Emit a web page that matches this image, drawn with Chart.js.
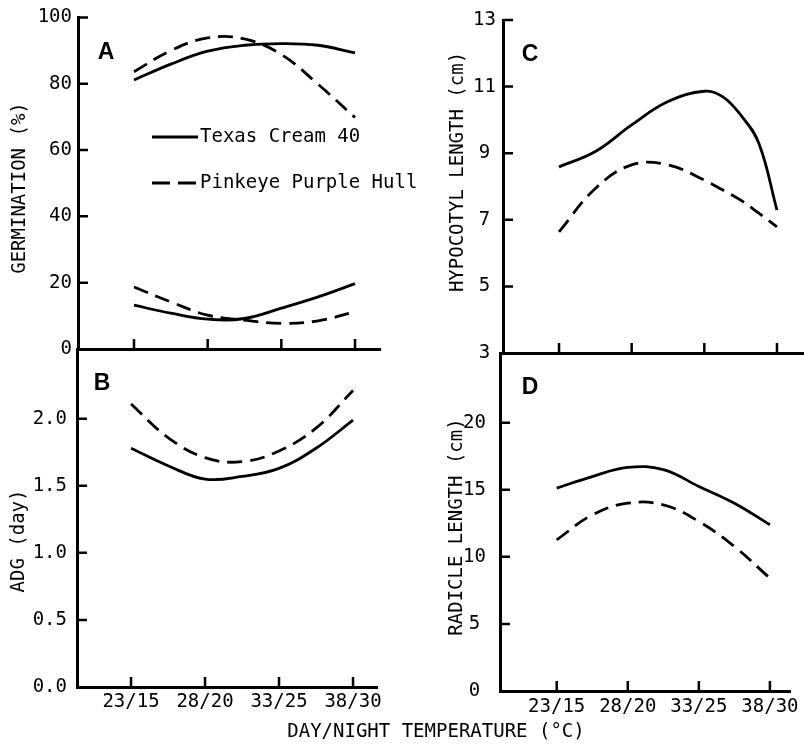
<!DOCTYPE html>
<html>
<head>
<meta charset="utf-8">
<title>Cowpea germination and seedling growth vs. temperature</title>
<script src="https://cdn.jsdelivr.net/npm/chart.js@4.4.0/dist/chart.umd.min.js"></script>
<style>
    html, body { margin: 0; padding: 0; background: #fff; }
    #wrap { position: relative; width: 804px; height: 744px; }
    #wrap canvas { position: absolute; left: 0; top: 0; }
</style>
</head>
<body>
<div id="wrap">
    <canvas id="panel-a" width="804" height="744"></canvas>
    <canvas id="panel-b" width="804" height="744"></canvas>
    <canvas id="panel-c" width="804" height="744"></canvas>
    <canvas id="panel-d" width="804" height="744"></canvas>
</div>
<script>
// Temperature regimes (day/night, deg C) on the x axis
const tempLabels = ['23/15', '28/20', '33/25', '38/30'];
const tempTicks = [1, 2, 3, 4];
const cultivars = ['Texas Cream 40', 'Pinkeye Purple Hull'];

// Points
const sampleX = [1, 1.5, 2, 2.5, 3, 3.5, 4];
const hypoX = [1, 1.5, 2, 2.5, 3, 3.25, 3.5, 3.75, 4];

// A - germination (%), upper and lower curves
const germTexasHigh = [81.1, 85.9, 89.8, 91.6, 92.1, 91.6, 89.3];
const germPinkHigh = [83.6, 90.0, 93.8, 93.5, 88.8, 79.8, 69.8];
const germTexasLow = [13.2, 10.8, 9.0, 9.2, 12.3, 15.7, 19.7];
const germPinkLow = [18.7, 14.2, 10.2, 8.7, 7.7, 8.5, 11.2];
const germTicks = [0, 20, 40, 60, 80, 100];

// B - ADG (day)
const adgTexas = [1.78, 1.65, 1.55, 1.57, 1.63, 1.78, 1.99];
const adgPink = [2.11, 1.86, 1.71, 1.68, 1.76, 1.93, 2.21];
const adgTicks = [0, 0.5, 1.0, 1.5, 2.0];

// C - hypocotyl length (cm)
const hypoTexas = [8.59, 9.05, 9.85, 10.55, 10.86, 10.7, 10.15, 9.3, 7.29];
const hypoPink = [6.64, 7.94, 8.65, 8.65, 8.19, 7.9, 7.59, 7.2, 6.79];
const hypoTicks = [3, 5, 7, 9, 11, 13];

// D - radicle length (cm)
const radTexas = [15.13, 15.99, 16.67, 16.5, 15.25, 14.0, 12.4];
const radPink = [11.27, 13.13, 14.0, 13.88, 12.64, 10.77, 8.41];
const radTicks = [0, 5, 10, 15, 20];

const monoFont = '"DejaVu Sans Mono", monospace';
const curveDash = [15, 8];

// Tick marks drawn on the inside of the axes, as in the original figure
const innerTicks = {
    id: 'innerTicks',
    afterDraw(chart, args, opts) {
        const { ctx, chartArea } = chart;
        const xs = chart.scales.x;
        const ys = chart.scales.y;
        ctx.save();
        ctx.strokeStyle = '#000';
        ctx.lineWidth = 2.5;
        ctx.beginPath();
        xs.ticks.forEach(t => {
            const px = xs.getPixelForValue(t.value);
            ctx.moveTo(px, chartArea.bottom);
            ctx.lineTo(px, chartArea.bottom - opts.length);
        });
        ys.ticks.forEach(t => {
            if (t.value === ys.min) return;
            const py = ys.getPixelForValue(t.value);
            ctx.moveTo(chartArea.left, py);
            ctx.lineTo(chartArea.left + opts.length, py);
        });
        ctx.stroke();
        ctx.restore();
    }
};

// Panel letter, rotated y title and optional shared x title
const panelText = {
    id: 'panelText',
    afterDraw(chart, args, opts) {
        const ctx = chart.ctx;
        ctx.save();
        ctx.fillStyle = '#000';
        ctx.textAlign = 'center';
        ctx.textBaseline = 'middle';

        ctx.font = 'bold 23px "Liberation Sans", Arial, sans-serif';
        ctx.fillText(opts.letter, opts.letterX, opts.letterY);

        ctx.font = '19px ' + monoFont;
        ctx.save();
        ctx.translate(opts.titleX, opts.titleY);
        ctx.rotate(-Math.PI / 2);
        ctx.fillText(opts.title, 0, 0);
        ctx.restore();

        if (opts.caption) {
            ctx.fillText(opts.caption, opts.captionX, opts.captionY);
        }
        ctx.restore();
    }
};

// Legend written inside panel A
const insideLegend = {
    id: 'insideLegend',
    afterDraw(chart, args, opts) {
        if (!opts.display) return;
        const ctx = chart.ctx;
        const items = chart.data.datasets.filter(d => d.inLegend);
        ctx.save();
        ctx.font = '19px ' + monoFont;
        ctx.fillStyle = '#000';
        ctx.strokeStyle = '#000';
        ctx.lineWidth = 2.8;
        ctx.textBaseline = 'middle';
        items.forEach((d, i) => {
            const y = opts.y + i * opts.rowGap;
            ctx.beginPath();
            ctx.setLineDash(d.borderDash.length ? [18, 8] : []);
            ctx.moveTo(opts.x, y);
            ctx.lineTo(opts.x + opts.sample, y);
            ctx.stroke();
            ctx.setLineDash([]);
            ctx.fillText(d.label, opts.x + opts.sample + 2, y);
        });
        ctx.restore();
    }
};

function makeDataset(label, xs, values, dashed, inLegend) {
    return {
        label: label,
        inLegend: inLegend,
        data: xs.map((x, i) => ({ x: x, y: values[i] })),
        borderColor: '#000',
        borderWidth: 2.8,
        borderDash: dashed ? curveDash : [],
        pointRadius: 0,
        tension: 0.4,
        fill: false
    };
}

function makePanel(id, p) {
    const yW = 60;
    const xH = p.showX ? 30 : 0;
    return new Chart(document.getElementById(id), {
        type: 'line',
        data: { datasets: p.datasets },
        options: {
            responsive: false,
            animation: false,
            layout: {
                padding: {
                    left: p.box.left - yW,
                    top: p.box.top,
                    right: 804 - p.box.right,
                    bottom: 744 - p.box.bottom - xH
                }
            },
            scales: {
                x: {
                    type: 'linear',
                    min: p.xMin,
                    max: p.xMax,
                    afterBuildTicks: s => { s.ticks = tempTicks.map(v => ({ value: v })); },
                    afterFit: s => { s.height = xH; },
                    grid: { drawOnChartArea: false, drawTicks: false },
                    border: { color: '#000', width: 3 },
                    ticks: {
                        display: p.showX,
                        padding: p.xPad || 4,
                        color: '#000',
                        font: { family: monoFont, size: 19 },
                        callback: v => tempLabels[tempTicks.indexOf(v)]
                    }
                },
                y: {
                    type: 'linear',
                    min: p.yMin,
                    max: p.yMax,
                    afterBuildTicks: s => { s.ticks = p.yTicks.map(v => ({ value: v })); },
                    afterFit: s => { s.width = yW; },
                    grid: { drawOnChartArea: false, drawTicks: false },
                    border: { color: '#000', width: 3 },
                    ticks: {
                        padding: p.yPad,
                        crossAlign: p.yAlign,
                        color: '#000',
                        font: { family: monoFont, size: 19 },
                        callback: p.yFormat
                    }
                }
            },
            plugins: {
                legend: { display: false },
                tooltip: { enabled: false },
                innerTicks: { length: 10 },
                panelText: p.text,
                insideLegend: p.legend || { display: false }
            }
        },
        plugins: [innerTicks, panelText, insideLegend]
    });
}

makePanel('panel-a', {
    box: { left: 78, top: 16, right: 380, bottom: 349 },
    xMin: 0.24, xMax: 4.339, yMin: 0, yMax: 100,
    yTicks: germTicks, yPad: 6, yAlign: 'near', yFormat: v => String(v),
    showX: false,
    datasets: [
        makeDataset(cultivars[0], sampleX, germTexasHigh, false, true),
        makeDataset(cultivars[1], sampleX, germPinkHigh, true, true),
        makeDataset(cultivars[0], sampleX, germTexasLow, false, false),
        makeDataset(cultivars[1], sampleX, germPinkLow, true, false)
    ],
    text: { letter: 'A', letterX: 106, letterY: 53, title: 'GERMINATION (%)', titleX: 20, titleY: 188 },
    legend: { display: true, x: 152, y: 137, rowGap: 46, sample: 46 }
});

makePanel('panel-b', {
    box: { left: 77, top: 349, right: 377, bottom: 687 },
    xMin: 0.27, xMax: 4.324, yMin: 0, yMax: 2.52,
    yTicks: adgTicks, yPad: 10, yAlign: 'near', yFormat: v => v.toFixed(1),
    showX: true, xPad: 4,
    datasets: [
        makeDataset(cultivars[0], sampleX, adgTexas, false, false),
        makeDataset(cultivars[1], sampleX, adgPink, true, false)
    ],
    text: { letter: 'B', letterX: 102, letterY: 384, title: 'ADG (day)', titleX: 19, titleY: 541 }
});

makePanel('panel-c', {
    box: { left: 503, top: 20, right: 804, bottom: 353 },
    xMin: 0.229, xMax: 4.372, yMin: 3, yMax: 13,
    yTicks: hypoTicks, yPad: 7, yAlign: 'center', yFormat: v => String(v),
    showX: false,
    datasets: [
        makeDataset(cultivars[0], hypoX, hypoTexas, false, false),
        makeDataset(cultivars[1], hypoX, hypoPink, true, false)
    ],
    text: { letter: 'C', letterX: 530, letterY: 55, title: 'HYPOCOTYL LENGTH (cm)', titleX: 458, titleY: 172 }
});

makePanel('panel-d', {
    box: { left: 500, top: 353, right: 797, bottom: 691 },
    xMin: 0.202, xMax: 4.289, yMin: 0, yMax: 25.2,
    yTicks: radTicks, yPad: 14, yAlign: 'center', yFormat: v => String(v),
    showX: true, xPad: 5,
    datasets: [
        makeDataset(cultivars[0], sampleX, radTexas, false, false),
        makeDataset(cultivars[1], sampleX, radPink, true, false)
    ],
    text: {
        letter: 'D', letterX: 530, letterY: 388, title: 'RADICLE LENGTH (cm)', titleX: 457, titleY: 527,
        caption: 'DAY/NIGHT TEMPERATURE (°C)', captionX: 436, captionY: 732
    }
});
</script>
</body>
</html>
